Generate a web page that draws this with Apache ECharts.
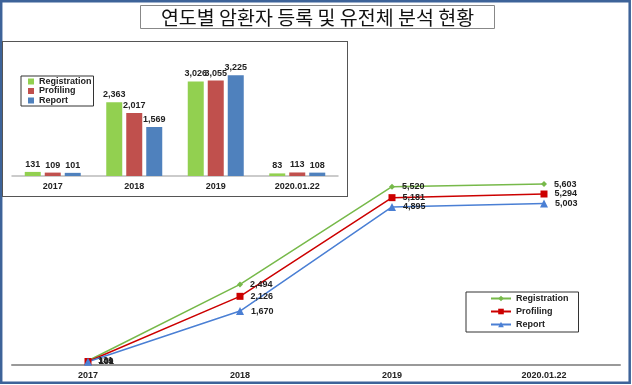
<!DOCTYPE html>
<html>
<head>
<meta charset="utf-8">
<script src="https://cdn.jsdelivr.net/npm/echarts@6/dist/echarts.min.js"></script>
<style>
html,body{margin:0;padding:0;background:#fff;}
#main{position:absolute;left:0;top:0;width:632px;height:385px;}
#inset{position:absolute;left:2px;top:41px;width:346px;height:156px;box-sizing:border-box;border:1px solid #555;background:#fff;z-index:2;}
#bar{width:344px;height:154px;}
</style>
</head>
<body>
<div id="main"></div>
<div id="inset"><div id="bar"></div></div>
<script>
var titleText = '연도별 암환자 등록 및 유전체 분석 현황';
var categories = ['2017', '2018', '2019', '2020.01.22'];
var seriesNames = ['Registration', 'Profiling', 'Report'];
// yearly counts (inset bar chart)
var registrationYearly = [131, 2363, 3026, 83];
var profilingYearly = [109, 2017, 3055, 113];
var reportYearly = [101, 1569, 3225, 108];
// cumulative counts (main line chart)
var registrationCumulative = [131, 2494, 5520, 5603];
var profilingCumulative = [109, 2126, 5181, 5294];
var reportCumulative = [101, 1670, 4895, 5003];

var FONT = 'Liberation Sans, Arial, sans-serif';
var fmt = function (v) { return v.toLocaleString('en-US'); };

var lineColors = ['#77b94a', '#cc0000', '#4a7fd4'];
var lineSymbols = ['diamond', 'rect', 'triangle'];
var lineSizes = [6, 7, 8];
var lineData = [registrationCumulative, profilingCumulative, reportCumulative];

var main = echarts.init(document.getElementById('main'));
main.setOption({
  animation: false,
  backgroundColor: '#fff',
  grid: {left: 12, right: 12, top: 42, bottom: 20, containLabel: false},
  xAxis: {
    type: 'category', data: categories, boundaryGap: true,
    axisLine: {lineStyle: {color: '#999', width: 2}},
    axisTick: {show: false},
    axisLabel: {fontFamily: FONT, fontSize: 9, fontWeight: 'bold', color: '#222', margin: 6}
  },
  yAxis: {type: 'value', min: 0, max: 10000, show: false, splitLine: {show: false}},
  legend: {
    orient: 'vertical', left: 466, top: 292,
    data: seriesNames,
    itemWidth: 20, itemHeight: 7, itemGap: 4,
    padding: [2, 10, 3, 24],
    borderColor: '#333', borderWidth: 1,
    textStyle: {fontFamily: FONT, fontSize: 9, fontWeight: 'bold', color: '#222', lineHeight: 9}
  },
  graphic: [
    {type: 'rect', z: 100, shape: {x: 1.2, y: 1.2, width: 628.5, height: 381.5},
     style: {fill: 'none', stroke: '#3d6399', lineWidth: 2.5}},
    {type: 'rect', z: 100, shape: {x: 140.5, y: 5.5, width: 354, height: 23},
     style: {fill: '#fff', stroke: '#888', lineWidth: 1}},
    {type: 'text', z: 101, x: 317.5, y: 17.5,
     style: {text: titleText, fontFamily: 'Noto Sans CJK KR', fontSize: 19.5, fill: '#111',
       textAlign: 'center', textVerticalAlign: 'middle'}}
  ],
  series: seriesNames.map(function (n, i) {
    return {
      name: n, type: 'line', data: lineData[i],
      symbol: lineSymbols[i], symbolSize: lineSizes[i],
      itemStyle: {color: lineColors[i]},
      lineStyle: {color: lineColors[i], width: 1.5},
      label: {show: true, position: 'right', distance: 7, formatter: function (p) { return fmt(p.value); },
        fontFamily: FONT, fontSize: 9, fontWeight: 'bold', color: '#222'}
    };
  })
});

var barColors = ['#92d050', '#c0504d', '#4f81bd'];
var barData = [registrationYearly, profilingYearly, reportYearly];
var bar = echarts.init(document.getElementById('bar'));
bar.setOption({
  animation: false,
  backgroundColor: '#fff',
  grid: {left: 9, right: 9, top: 9, bottom: 20, containLabel: false},
  xAxis: {
    type: 'category', data: categories,
    axisLine: {lineStyle: {color: '#bbb', width: 1.5}},
    axisTick: {show: false},
    axisLabel: {fontFamily: FONT, fontSize: 9, fontWeight: 'bold', color: '#222', margin: 6}
  },
  yAxis: {type: 'value', min: 0, max: 4000, show: false, splitLine: {show: false}},
  legend: {
    orient: 'vertical', left: 18, top: 34,
    data: seriesNames,
    icon: 'rect', itemWidth: 6, itemHeight: 6, itemGap: 0.5,
    padding: [1, 2, 1, 7],
    borderColor: '#333', borderWidth: 1,
    textStyle: {fontFamily: FONT, fontSize: 9, fontWeight: 'bold', color: '#222', lineHeight: 8}
  },
  series: seriesNames.map(function (n, i) {
    return {
      name: n, type: 'bar', data: barData[i],
      barWidth: 16, barGap: '25%',
      itemStyle: {color: barColors[i]},
      label: {show: true, position: 'top', distance: 3, formatter: function (p) { return fmt(p.value); },
        fontFamily: FONT, fontSize: 9, fontWeight: 'bold', color: '#222'}
    };
  })
});
</script>
</body>
</html>
